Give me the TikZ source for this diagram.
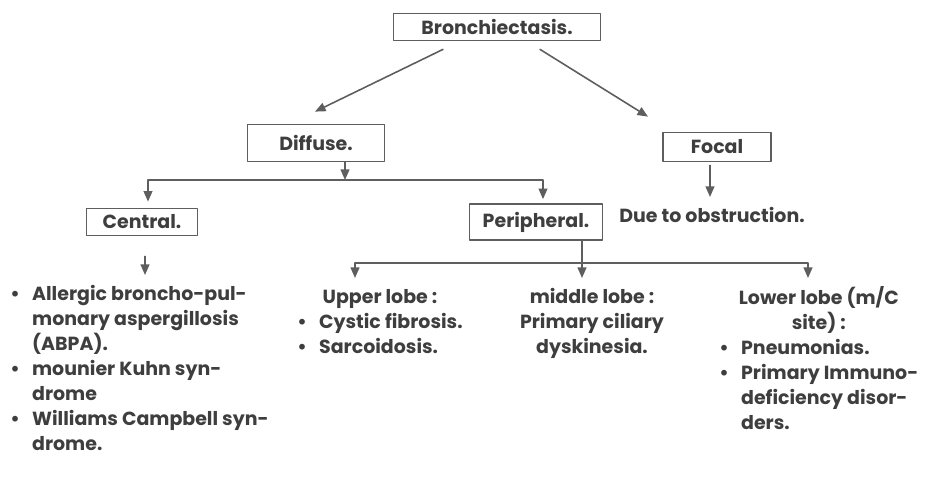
\documentclass[tikz,border=0pt]{standalone}
\usepackage{fontspec}
\setmainfont{Poppins}
\usetikzlibrary{arrows.meta,calc}
\definecolor{ink}{HTML}{3E3E3E}
\definecolor{wire}{HTML}{5E5E5E}
\tikzset{
    box/.style={draw=wire, line width=1pt, inner sep=0pt, text=ink},
    txt/.style={inner sep=0pt, text=ink},
    arr/.style={draw=wire, line width=0.9pt, -{Triangle[width=5pt,length=6pt]}},
    wire/.style={draw=wire, line width=0.9pt}
}
\begin{document}
\begin{tikzpicture}[
    x=0.02cm,
    y=-0.02cm,
    font=\fontsize{10.8}{14.2}\selectfont\bfseries,
    line join=round,
    line cap=round
]
    \useasboundingbox (0,0) rectangle (927,485);

    % boxes
    \node[box, minimum width=4.14cm, minimum height=0.54cm] (bron) at (497,27) {Bronchiectasis.};
    \node[box, minimum width=2.74cm, minimum height=0.74cm] (diffuse) at (316,143) {Diffuse.};
    \node[box, minimum width=2.16cm, minimum height=0.58cm] (focal) at (717,147) {Focal};
    \node[box, minimum width=2.22cm, minimum height=0.54cm] (central) at (142,222) {Central.};
    \node[box, minimum width=2.66cm, minimum height=0.72cm] (periph) at (536,222) {Peripheral.};
    \node[txt] (obstr) at (712,215) {Due to obstruction.};

    % top level
    \draw[arr] ($(bron.south)+(-54,8)$) -- ($(diffuse.north)+(-1,-12)$);
    \draw[arr] ($(bron.south)+(43,8)$) -- ($(focal.north)+(-69,-15)$);
    \draw[arr] ($(focal.south)+(-7,3)$) -- ($(obstr.north)+(-2,-10)$);

    % diffuse split
    \coordinate (dsplit) at (345,180);
    \draw[arr] (diffuse.south -| dsplit) -- (dsplit);
    \draw[arr] (dsplit) -| ($(central.north)+(6,-6)$);
    \draw[arr] (dsplit) -| ($(periph.north)+(7,-4)$);

    % central list
    \node[txt, anchor=north west] (clist) at (10,283) {%
        \begin{tabular}{@{}l@{\hspace{7pt}}l@{}}
        \textbullet & Allergic broncho-pul-\\
                    & monary aspergillosis\\
                    & (ABPA).\\
        \textbullet & mounier Kuhn syn-\\
                    & drome\\
        \textbullet & Williams Campbell syn-\\
                    & drome.
        \end{tabular}};
    \draw[arr] ($(central.south)+(3,20)$) -- ($(clist.north west)+(135,-8)$);

    % lobes
    \node[txt, anchor=north west] (upper) at (297,286) {%
        \begin{tabular}{@{}l@{\hspace{7pt}}l@{}}
        \multicolumn{2}{c}{Upper lobe :}\\
        \textbullet & Cystic fibrosis.\\
        \textbullet & Sarcoidosis.
        \end{tabular}};
    \node[txt, anchor=north] (middle) at (592,286) {%
        \begin{tabular}{@{}c@{}}
        middle lobe :\\
        Primary ciliary\\
        dyskinesia.
        \end{tabular}};
    \node[txt, anchor=north west] (lower) at (719,286) {%
        \begin{tabular}{@{}l@{\hspace{7pt}}l@{}}
        \multicolumn{2}{c}{Lower lobe (m/C}\\
        \multicolumn{2}{c}{site) :}\\
        \textbullet & Pneumonias.\\
        \textbullet & Primary Immuno-\\
                    & deficiency disor-\\
                    & ders.
        \end{tabular}};

    % peripheral split
    \coordinate (psplit) at (582,263);
    \draw[wire] (periph.south -| psplit) -- (psplit);
    \draw[arr] (psplit) -| ($(upper.north west)+(58,-8)$);
    \draw[arr] (psplit) -- ($(middle.north)+(-10,-8)$);
    \draw[arr] (psplit) -| ($(lower.north west)+(89,-8)$);
\end{tikzpicture}
\end{document}
